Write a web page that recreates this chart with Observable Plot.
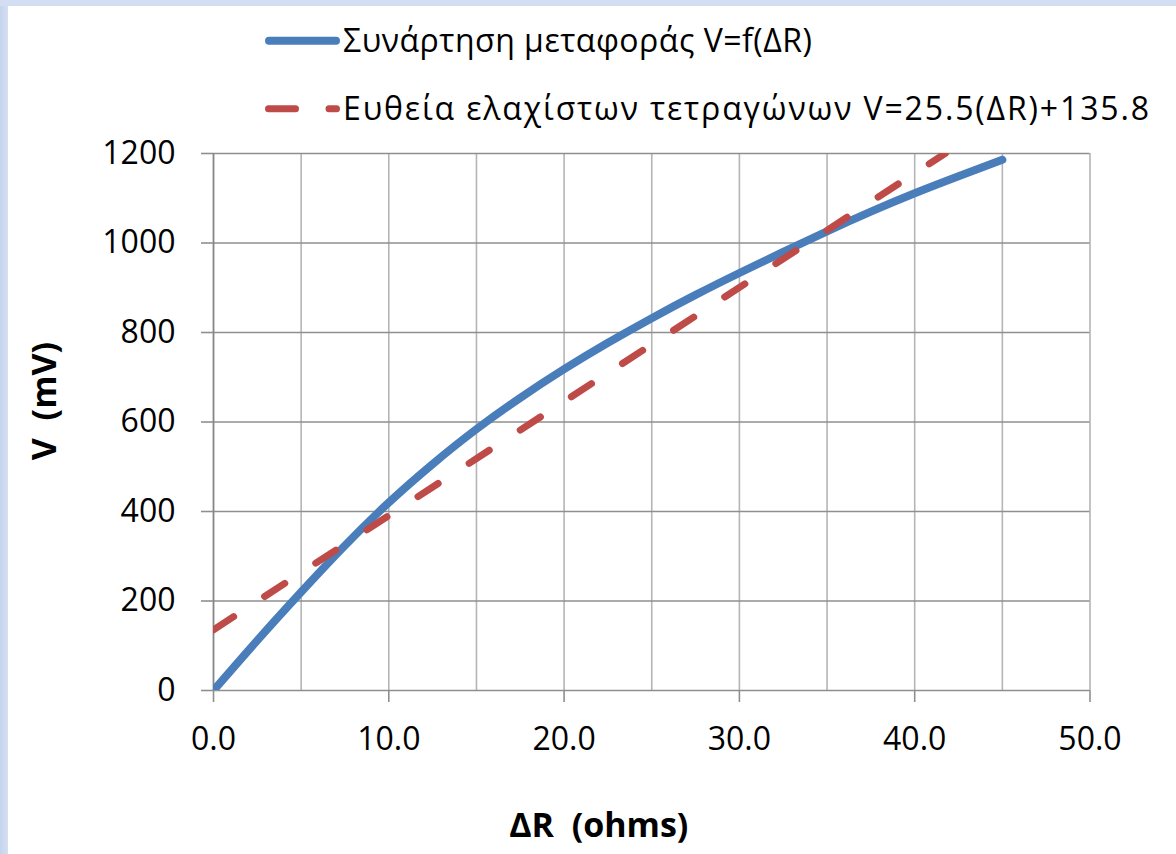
<!DOCTYPE html>
<html>
<head>
<meta charset="utf-8">
<script src="https://cdn.jsdelivr.net/npm/d3@7"></script>
<script src="https://cdn.jsdelivr.net/npm/@observablehq/plot@0.6"></script>
<style>
html,body{margin:0;padding:0;width:1176px;height:854px;overflow:hidden;}
body{position:relative;background:linear-gradient(to right,#c4d4ee 0px,#d5dff2 8px);font-family:"Open Sans",sans-serif;}
#topstrip{position:absolute;left:0;top:0;width:1176px;height:6px;background:#d3def2;}
#panel{position:absolute;left:8px;top:6px;width:1168px;height:848px;background:#fff;}
#chart{position:absolute;left:0;top:0;}
#legend{position:absolute;left:0;top:0;}
</style>
</head>
<body>
<div id="topstrip"></div>
<div id="panel"></div>
<div id="chart"></div>
<div id="legend"></div>
<script>
// ---- data ----
const deltaR = [0, 2.5, 5, 7.5, 10, 12.5, 15, 17.5, 20, 22.5, 25, 27.5, 30, 32.5, 35, 37.5, 40, 42.5, 45];
const transferV = [0, 112, 220, 324, 420, 506, 584, 654, 718, 777, 832, 884, 933, 980, 1026, 1070, 1111, 1149, 1186];
const fitR = [0, 41.75];
const fitV = [135.8, 1200.4];
const seriesNames = ["Συνάρτηση μεταφοράς V=f(ΔR)", "Ευθεία ελαχίστων τετραγώνων V=25.5(ΔR)+135.8"];
const seriesColors = ["#4a7ebb", "#be4b48"];
const xTicks = [0, 10, 20, 30, 40, 50];
const xGrid = [5, 10, 15, 20, 25, 30, 35, 40, 45, 50];
const yTicks = [0, 200, 400, 600, 800, 1000, 1200];
const xTitle = "ΔR \u00A0(ohms)";
const yTitle = "V \u00A0(mV)";

const blue = deltaR.map((r, i) => ({r, v: transferV[i]}));
const red = fitR.map((r, i) => ({r, v: fitV[i]}));

const font = "'Open Sans', sans-serif";

const chart = Plot.plot({
  width: 1176,
  height: 854,
  marginLeft: 213,
  marginRight: 86.5,
  marginTop: 153,
  marginBottom: 164,
  x: {domain: [0, 50]},
  y: {domain: [0, 1200]},
  style: {background: "transparent", fontFamily: font, fontSize: "32px", color: "#000", overflow: "visible"},
  marks: [
    Plot.ruleX(xGrid, {stroke: "#b5b5b5", strokeWidth: 1.6}),
    Plot.ruleY(yTicks, {stroke: "#8f8f8f", strokeWidth: 1.6}),
    Plot.ruleX([0], {stroke: "#868686", strokeWidth: 1.8}),
    Plot.axisX({ticks: xTicks, tickSize: 12, tickPadding: 25, tickFormat: d => d.toFixed(1), label: null, fontSize: 32, stroke: "#8f8f8f", strokeWidth: 1.6}),
    Plot.axisY({ticks: yTicks, tickSize: 12, tickPadding: 26, tickFormat: d => String(d), label: null, fontSize: 32, stroke: "#8f8f8f", strokeWidth: 1.6}),
    Plot.line(blue, {x: "r", y: "v", stroke: seriesColors[0], strokeWidth: 8, strokeLinecap: "round", strokeLinejoin: "round", curve: "natural", clip: true}),
    Plot.line(red, {x: "r", y: "v", stroke: seriesColors[1], strokeWidth: 7, strokeLinecap: "round", strokeDasharray: "24,37", clip: true}),
    Plot.text([xTitle], {text: d => d, frameAnchor: "bottom", textAnchor: "middle", dx: -53, dy: 136, lineAnchor: "middle", fontWeight: "bold", fontSize: 34}),
    Plot.text([yTitle], {text: d => d, frameAnchor: "left", textAnchor: "middle", lineAnchor: "middle", rotate: -90, dx: -168, dy: -21, fontWeight: "bold", fontSize: 34})
  ]
});
document.getElementById("chart").appendChild(chart);

// ---- legend ----
const lg = d3.select("#legend").append("svg").attr("width", 1176).attr("height", 140);
const rows = [{y: 40.7, base: 51.7, len: 469}, {y: 108.7, base: 120, len: 806}];
// row 1: solid line
lg.append("line").attr("x1", 269).attr("x2", 336).attr("y1", rows[0].y).attr("y2", rows[0].y)
  .attr("stroke", seriesColors[0]).attr("stroke-width", 8).attr("stroke-linecap", "round");
// row 2: dash + dot
lg.append("line").attr("x1", 268.5).attr("x2", 295.5).attr("y1", rows[1].y).attr("y2", rows[1].y)
  .attr("stroke", seriesColors[1]).attr("stroke-width", 7).attr("stroke-linecap", "round");
lg.append("line").attr("x1", 329).attr("x2", 336.5).attr("y1", rows[1].y).attr("y2", rows[1].y)
  .attr("stroke", seriesColors[1]).attr("stroke-width", 7).attr("stroke-linecap", "round");
seriesNames.forEach((name, i) => {
  lg.append("text").attr("x", 343).attr("y", rows[i].base)
    .attr("font-family", font).attr("font-size", 32).attr("fill", "#000")
    .attr("textLength", rows[i].len).attr("lengthAdjust", "spacing").text(name);
});
</script>
</body>
</html>
